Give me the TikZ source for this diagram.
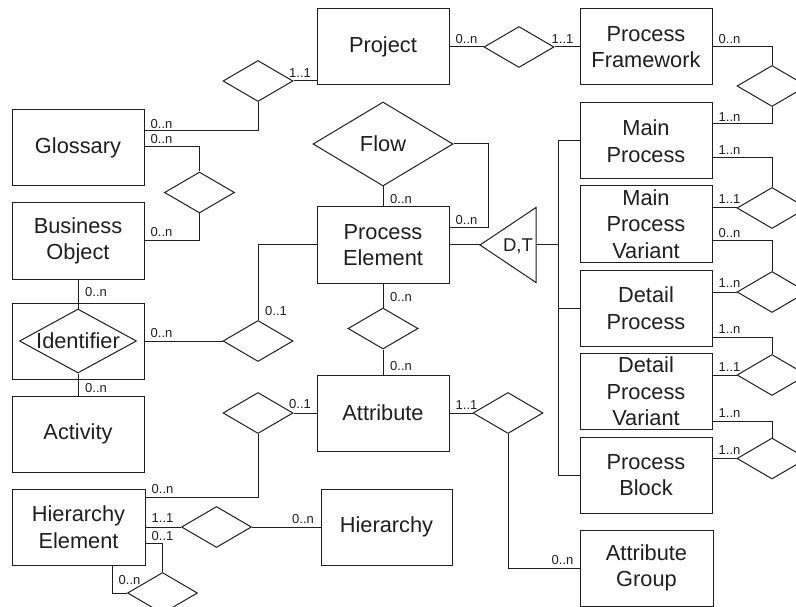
\documentclass[tikz,border=0pt]{standalone}
\usepackage{fontspec}
\setmainfont{Liberation Sans}
\usetikzlibrary{shapes.geometric}
\newcommand{\entfont}{\fontsize{21.8}{26.5}\selectfont}
\newcommand{\cardfont}{\fontsize{13}{14}\selectfont}
\newcommand{\dtfont}{\fontsize{18.5}{20}\selectfont}
\begin{document}
\begin{tikzpicture}[x=1pt,y=-1pt, line width=1pt, color=black!88,
  ent/.style={draw, rectangle, minimum width=132pt, minimum height=76pt, inner sep=0pt, align=center, font=\entfont},
  rel/.style={draw, diamond, minimum width=70pt, minimum height=41pt, inner sep=0pt},
  card/.style={font=\cardfont, inner sep=0pt}]
\clip (0,0) rectangle (796,607);
\fill[white] (0,0) rectangle (796,607);
% entities
\node[ent] (proj) at (383,47) {Project};
\node[ent] (pf) at (646,47) {Process\\Framework};
\node[ent] (glos) at (78,147.5) {Glossary};
\node[ent] (bo) at (78,241) {Business\\Object};
\node[ent] (idb) at (78,341) {};
\node[rel, minimum width=117pt, minimum height=64pt, aspect=1.83, font=\entfont] (idd) at (78,341) {Identifier};
\node[ent] (act) at (78,434) {Activity};
\node[ent, minimum width=133pt] (he) at (78.5,527) {Hierarchy\\Element};
\node[ent, minimum width=131pt] (hier) at (386.5,527) {Hierarchy};
\node[ent] (pe) at (383,245) {Process\\Element};
\node[ent] (attr) at (383,413) {Attribute};
\node[ent, minimum width=133pt] (ag) at (646.5,568) {Attribute\\Group};
\node[ent] (mp) at (646,141) {Main\\Process};
\node[ent] (mpv) at (646,224) {Main\\Process\\Variant};
\node[ent] (dp) at (646,308) {Detail\\Process};
\node[ent] (dpv) at (646,391.5) {Detail\\Process\\Variant};
\node[ent] (pb) at (646,475) {Process\\Block};
% relationships
\node[rel] (r1) at (258,81) {};
\node[rel] (r2) at (199.5,192.5) {};
\node[rel] (r3) at (258,341) {};
\node[rel, minimum width=140pt, minimum height=84pt, font=\entfont] (flow) at (383,144) {Flow};
\node[rel] (r4) at (383,328.5) {};
\node[rel] (r5) at (258,413) {};
\node[rel] (r6) at (216.5,527) {};
\node[rel] (r7) at (162.5,593) {};
\node[rel] (r8) at (508,413) {};
\node[rel] (r9) at (519,47) {};
\node[rel] (r10) at (772,86) {};
\node[rel] (r11) at (772,208) {};
\node[rel] (r12) at (772,292) {};
\node[rel] (r13) at (772,375) {};
\node[rel] (r14) at (772,458.5) {};
% D,T triangle
\coordinate (dtTip) at (480,245);
\coordinate (dtBase) at (536,245);
\coordinate (bus) at (558,0);
\draw (dtTip) -- (536,207.5) -- (536,282.5) -- cycle;
\node[font=\dtfont, inner sep=0pt] (dt) at (518,246) {D,T};
% connectors
\draw (r1.east) -- (r1.east -| proj.west);
\draw (r1.south) |- (glos.east |- 0,131);
\draw (glos.east |- 0,147) -| (r2.north);
\draw (r2.south) |- (bo.east);
\draw (bo.south) -- (idd.north);
\draw (idd.south) -- (act.north);
\draw (idb.east) -- (r3.west);
\draw (r3.north) |- (pe.west);
\draw (flow.south) -- (pe.north);
\draw (flow.east) -- (flow.east -| 488,0) |- (pe.east |- 0,228);
\draw (pe.east) -- (dtTip);
\draw (dtBase) -- (dtBase -| bus);
\draw (mp.west) -- (mp.west -| bus) |- (pb.west);
\draw (dp.west) -- (dp.west -| bus);
\draw (pe.south) -- (r4.north);
\draw (r4.south) -- (attr.north);
\draw (attr.west) -- (r5.east);
\draw (r5.south) |- (he.east |- 0,497);
\draw (he.east) -- (r6.west);
\draw (r6.east) -- (hier.west);
\draw (he.east |- 0,543) -| (r7.north);
\draw (he.south -| 112,0) |- (r7.west);
\draw (attr.east) -- (r8.west);
\draw (r8.south) |- (ag.west);
\draw (proj.east) -- (r9.west);
\draw (r9.east) -- (pf.west);
\draw (pf.east) -| (r10.north);
\draw (r10.south) |- (mp.east |- 0,124);
\draw (mp.east |- 0,158) -| (r11.north);
\draw (r11.west) -- (r11.west -| mpv.east);
\draw (mpv.east |- 0,241) -| (r12.north);
\draw (r12.west) -- (r12.west -| dp.east);
\draw (dp.east |- 0,337) -| (r13.north);
\draw (r13.west) -- (r13.west -| dpv.east);
\draw (dpv.east |- 0,421) -| (r14.north);
\draw (r14.west) -- (r14.west -| pb.east);
% cardinalities
\node[card] (c1) at (300,73) {1..1};
\node[card] (c2) at (161.5,124) {0..n};
\node[card] (c3) at (161.5,139.5) {0..n};
\node[card] (c4) at (161.5,232.5) {0..n};
\node[card] (c5) at (96,292.5) {0..n};
\node[card] (c6) at (161.5,333) {0..n};
\node[card] (c7) at (276,311.5) {0..1};
\node[card] (c8) at (96,388) {0..n};
\node[card] (c9) at (300,404.5) {0..1};
\node[card] (c10) at (162.5,489) {0..n};
\node[card] (c11) at (162.5,518.5) {1..1};
\node[card] (c12) at (162.5,536.5) {0..1};
\node[card] (c13) at (303,519) {0..n};
\node[card] (c14) at (129.5,580) {0..n};
\node[card] (c15) at (466.5,39) {0..n};
\node[card] (c16) at (562.5,39) {1..1};
\node[card] (c17) at (729.5,39) {0..n};
\node[card] (c18) at (729.5,117) {1..n};
\node[card] (c19) at (729.5,150.5) {1..n};
\node[card] (c20) at (729.5,199.5) {1..1};
\node[card] (c21) at (729.5,233) {0..n};
\node[card] (c22) at (729.5,283) {1..n};
\node[card] (c23) at (729.5,329.5) {1..n};
\node[card] (c24) at (729.5,367) {1..1};
\node[card] (c25) at (729.5,413) {1..n};
\node[card] (c26) at (729.5,450.5) {1..n};
\node[card] (c27) at (401,199) {0..n};
\node[card] (c28) at (466.5,220) {0..n};
\node[card] (c29) at (401,297) {0..n};
\node[card] (c30) at (401,366.5) {0..n};
\node[card] (c31) at (466.5,405.5) {1..1};
\node[card] (c32) at (562.5,560.5) {0..n};
\end{tikzpicture}
\end{document}
